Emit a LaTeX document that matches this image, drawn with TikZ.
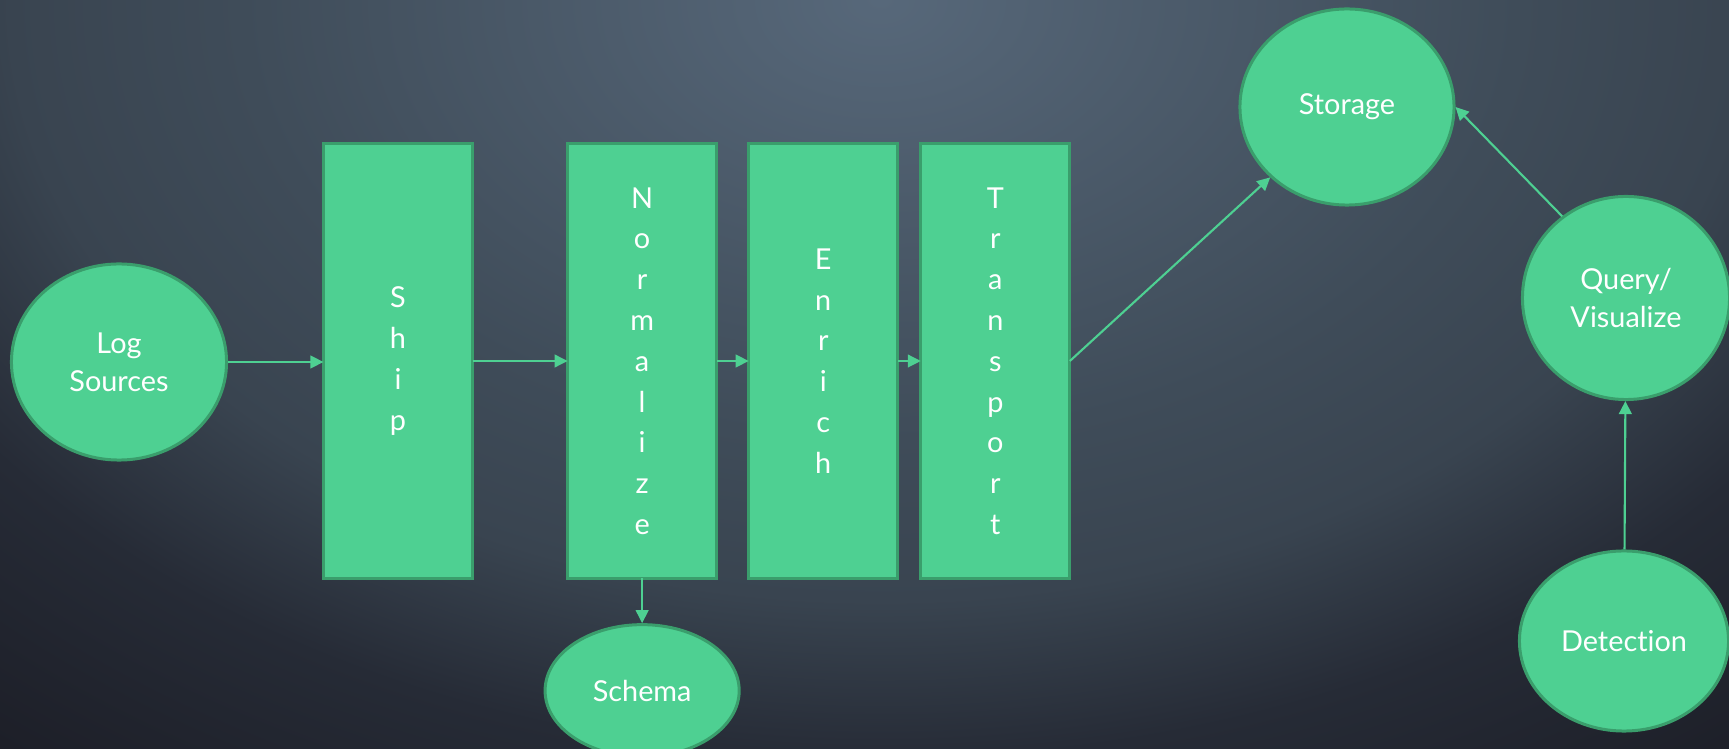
\documentclass[tikz,border=0pt]{standalone}
\usepackage{fontspec}
\setmainfont{Lato}[Ligatures=NoCommon]
\definecolor{slatetop}{RGB}{87,104,122}
\definecolor{slatemid}{RGB}{63,76,89}
\definecolor{slatelow}{RGB}{57,68,80}
\definecolor{slatedeep}{RGB}{38,43,54}
\definecolor{slateedge}{RGB}{29,31,40}
\definecolor{mint}{RGB}{78,208,146}
\definecolor{mintdark}{RGB}{58,158,108}
\usetikzlibrary{positioning,arrows.meta,shapes.geometric}
\pgfdeclareradialshading{slateglow}{\pgfpoint{0bp}{0bp}}{color(0bp)=(slatetop); color(11bp)=(slatemid); color(15bp)=(slatelow); color(19bp)=(slatedeep); color(24bp)=(slateedge); color(50bp)=(slateedge)}

\begin{document}
\begin{tikzpicture}[
  x=0.01cm, y=-0.01cm,
  font=\fontsize{8.2}{10.8}\selectfont,
  stagebox/.style={draw=mintdark, line width=0.85pt, fill=mint, text=white, outer sep=0pt, minimum width=1.49cm, minimum height=4.34cm, align=center, font=\fontsize{8.2}{11.6}\selectfont},
  blob/.style={ellipse, draw=mintdark, line width=0.85pt, fill=mint, text=white, align=center, inner sep=0pt},
  arrow/.style={-{Triangle[length=3.7pt, width=3.6pt]}, line width=0.6pt, mint}
]
\useasboundingbox (0,0) rectangle (1729,749);
% background
\begin{scope}
  \clip (0,0) rectangle (1729,749);
  \fill[slateedge] (0,0) rectangle (1729,749);
  \shade[shading=slateglow] (880,0) ellipse (1450 and 1000);
\end{scope}

\node[blob, minimum width=2.15cm, minimum height=1.96cm] (src) at (119,362) {Log\\Sources};
\node[stagebox] (ship) at (398,361) {S\\h\\i\\p};
\node[stagebox, right=0.95cm of ship] (norm) {N\\o\\r\\m\\a\\l\\i\\z\\e};
\node[stagebox, right=0.32cm of norm] (enrich) {E\\n\\r\\i\\c\\h};
\node[stagebox, right=0.23cm of enrich] (transport) {T\\r\\a\\n\\s\\p\\o\\r\\t};
\node[blob, minimum width=1.94cm, minimum height=1.32cm, below=0.45cm of norm] (schema) {Schema};
\node[blob, minimum width=2.14cm, minimum height=1.96cm] (storage) at (1347,107) {Storage};
\node[blob, minimum width=2.07cm, minimum height=2.03cm] (query) at (1626,298) {Query/\\Visualize};
\node[blob, minimum width=2.09cm, minimum height=1.80cm] (detect) at (1624,641) {Detection};

\draw[arrow] (src.east) -- (src.east -| ship.west);
\draw[arrow] (ship) -- (norm);
\draw[arrow] (norm) -- (enrich);
\draw[arrow] (enrich) -- (transport);
\draw[arrow] (norm) -- (schema);
\draw[arrow] (transport.east) -- (storage);
\draw[arrow] (query.128) -- (storage.east);
\draw[arrow] (detect) -- (query);
\end{tikzpicture}
\end{document}
